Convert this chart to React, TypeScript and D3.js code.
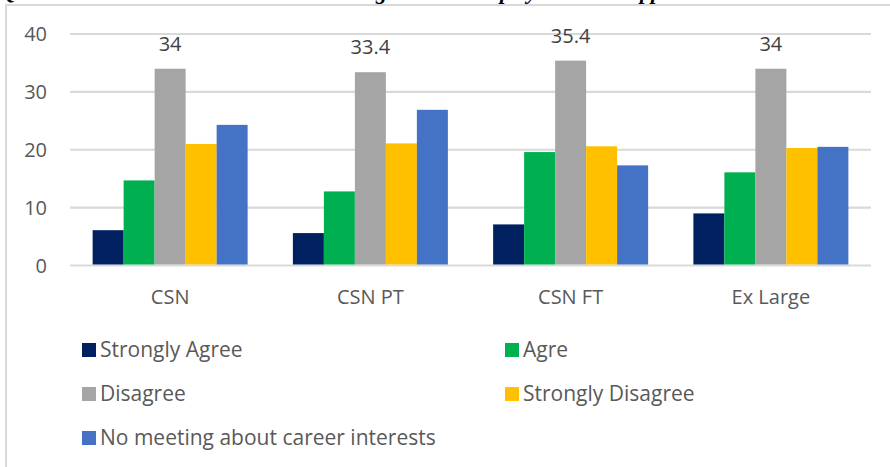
import React from "react";
import * as d3 from "d3";

const categories = ["CSN", "CSN PT", "CSN FT", "Ex Large"];
const seriesNames = ["Strongly Agree", "Agre", "Disagree", "Strongly Disagree", "No meeting about career interests"];
const seriesColors = ["#002060", "#00B050", "#A5A5A5", "#FFC000", "#4472C4"];
const stronglyAgree = [6.1, 5.6, 7.1, 9.0];
const agre = [14.7, 12.8, 19.6, 16.1];
const disagree = [34, 33.4, 35.4, 34];
const stronglyDisagree = [21.0, 21.1, 20.6, 20.3];
const noMeeting = [24.3, 26.9, 17.3, 20.5];
const yTicks = [0, 10, 20, 30, 40];
const labeledSeries = 2;

const W = 890;
const H = 467;
const FONT = "'Open Sans', sans-serif";
const TXT = "#595959";

export default function App() {
  const values = [stronglyAgree, agre, disagree, stronglyDisagree, noMeeting];
  const x0 = d3.scaleBand<string>().domain(categories).range([70, 871]).paddingInner(0).paddingOuter(0);
  const x1 = d3
    .scaleBand<number>()
    .domain(d3.range(seriesNames.length))
    .range([0, x0.bandwidth()])
    .paddingOuter(0.73)
    .paddingInner(0);
  const y = d3.scaleLinear().domain([0, 40]).range([265.5, 34]);

  const legendPos = [
    { x: 82, y: 350 },
    { x: 505, y: 350 },
    { x: 82, y: 394 },
    { x: 505, y: 394 },
    { x: 82, y: 438 },
  ];

  return (
    <svg width={W} height={H} style={{ position: "absolute", left: 0, top: 0 }}>
      <rect x={0} y={0} width={W} height={H} fill="#fff" />
      <text
        fontFamily="'Liberation Serif', serif"
        fontStyle="italic"
        fontWeight="bold"
        fontSize={22}
        fill="#000"
        y={-1}
      >
        <tspan x={0}>Q</tspan>
        <tspan x={376}>g</tspan>
        <tspan x={500}>p</tspan>
        <tspan x={527}>y</tspan>
        <tspan x={640}>pp</tspan>
      </text>
      <rect x={6} y={5} width={W + 20} height={H + 20} fill="none" stroke="#d9d9d9" strokeWidth={2} />
      {yTicks.map((t) => (
        <g key={t}>
          <line x1={70} x2={871} y1={y(t)} y2={y(t)} stroke="#d9d9d9" strokeWidth={2.2} />
          <text x={47} y={y(t)} dy="0.35em" textAnchor="end" fontFamily={FONT} fontSize={20} fill={TXT}>
            {t}
          </text>
        </g>
      ))}
      {categories.map((c, ci) => (
        <g key={c} transform={`translate(${x0(c)},0)`}>
          {values.map((vals, si) => (
            <rect
              key={si}
              x={x1(si)}
              y={y(vals[ci])}
              width={x1.bandwidth()}
              height={y(0) - y(vals[ci]) - 1}
              fill={seriesColors[si]}
            />
          ))}
          <text
            x={(x1(labeledSeries) as number) + x1.bandwidth() / 2}
            y={y(values[labeledSeries][ci]) - 18}
            textAnchor="middle"
            fontFamily={FONT}
            fontSize={20}
            fill="#404040"
          >
            {values[labeledSeries][ci]}
          </text>
          <text
            x={x0.bandwidth() / 2}
            y={304}
            textAnchor="middle"
            fontFamily={FONT}
            fontSize={20}
            fill={TXT}
          >
            {c}
          </text>
        </g>
      ))}
      {seriesNames.map((n, i) => (
        <g key={n}>
          <rect x={legendPos[i].x} y={legendPos[i].y - 7} width={14} height={14} fill={seriesColors[i]} />
          <text
            x={legendPos[i].x + 18}
            y={legendPos[i].y}
            dy="0.35em"
            fontFamily={FONT}
            fontSize={21}
            fill={TXT}
          >
            {n}
          </text>
        </g>
      ))}
    </svg>
  );
}
